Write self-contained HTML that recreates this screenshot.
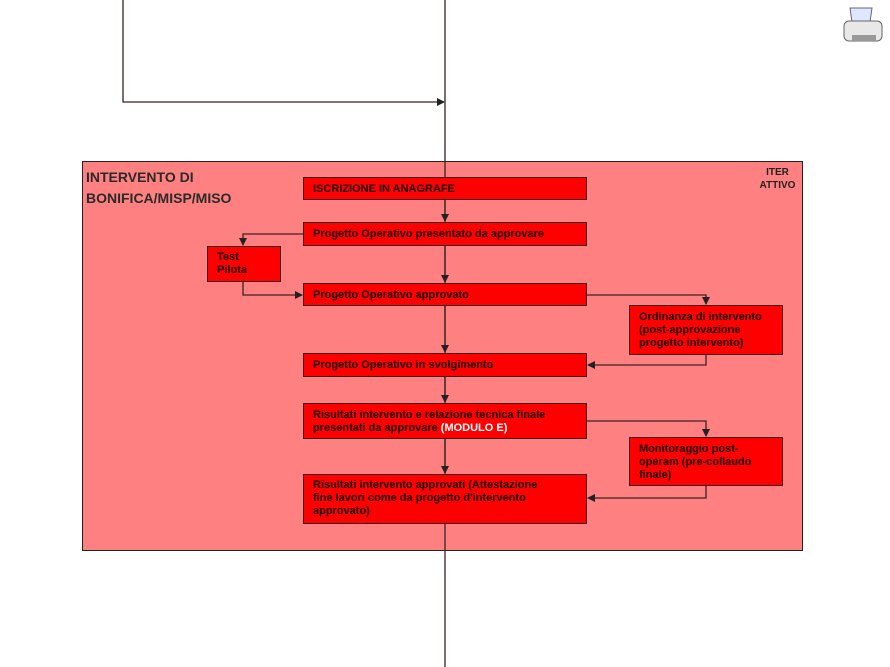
<!DOCTYPE html>
<html><head><meta charset="utf-8"><style>
body{margin:0;width:890px;height:667px;background:#fff;overflow:hidden;position:relative;font-family:"Liberation Sans","DejaVu Sans",sans-serif}
.b{position:absolute;background:#ff0000;border:1px solid #3a1a1a;box-sizing:border-box;font-weight:bold;font-size:11px;line-height:13px;color:#1a0000;padding:4px 0 0 9px;letter-spacing:0}
svg{position:absolute;left:0;top:0}
</style></head><body>
<div style="position:absolute;left:82px;top:161px;width:721px;height:390px;background:#ff8080;border:1px solid #222;box-sizing:border-box"></div>
<div style="position:absolute;left:86px;top:167px;font-size:14px;font-weight:bold;line-height:21px;color:#2a2a2a">INTERVENTO DI<br>BONIFICA/MISP/MISO</div>
<div style="position:absolute;left:755px;top:166px;font-size:10px;line-height:13px;font-weight:bold;text-align:center;color:#222;width:45px">ITER<br>ATTIVO</div>
<svg width="890" height="667">
<defs><marker id="a" markerWidth="8" markerHeight="8" refX="7" refY="4" orient="auto" markerUnits="userSpaceOnUse"><path d="M0,0L8,4L0,8z" fill="#222"/></marker></defs>
<g stroke="#3a2222" stroke-width="1.3" fill="none">
<line x1="445" y1="0" x2="445" y2="667"/>
<polyline points="123,0 123,102 444,102" marker-end="url(#a)"/>
<line x1="445" y1="199" x2="445" y2="221" marker-end="url(#a)"/>
<line x1="445" y1="245" x2="445" y2="282" marker-end="url(#a)"/>
<line x1="445" y1="306" x2="445" y2="352" marker-end="url(#a)"/>
<line x1="445" y1="376" x2="445" y2="402" marker-end="url(#a)"/>
<line x1="445" y1="439" x2="445" y2="473" marker-end="url(#a)"/>
<polyline points="303,234 243,234 243,245" marker-end="url(#a)"/>
<polyline points="243,282 243,295 302,295" marker-end="url(#a)"/>
<polyline points="587,295 706,295 706,304" marker-end="url(#a)"/>
<polyline points="706,355 706,365 588,365" marker-end="url(#a)"/>
<polyline points="587,421 706,421 706,436" marker-end="url(#a)"/>
<polyline points="706,486 706,498 588,498" marker-end="url(#a)"/>
</g>
<g transform="translate(842,6)">
<path d="M8,2 L30,2 L28,16 L10,16z" fill="#dde8ff" stroke="#667" stroke-width="1"/>
<rect x="2" y="15" width="38" height="20" rx="5" fill="#e8e8e8" stroke="#666"/>
<rect x="10" y="29" width="24" height="6" fill="#999"/>
</g>
</svg>
<div class="b" style="left:303px;top:177px;width:284px;height:23px;padding-top:5px">ISCRIZIONE IN ANAGRAFE</div>
<div class="b" style="left:303px;top:222px;width:284px;height:24px;padding-top:5px">Progetto Operativo presentato da approvare</div>
<div class="b" style="left:207px;top:246px;width:74px;height:36px">Test<br>Pilota</div>
<div class="b" style="left:303px;top:283px;width:284px;height:23px;padding-top:5px">Progetto Operativo approvato</div>
<div class="b" style="left:629px;top:305px;width:154px;height:50px;padding-top:5px">Ordinanza di intervento<br>(post-approvazione<br>progetto intervento)</div>
<div class="b" style="left:303px;top:353px;width:284px;height:24px;padding-top:5px">Progetto Operativo in svolgimento</div>
<div class="b" style="left:303px;top:403px;width:284px;height:36px;padding-top:5px">Risultati intervento e relazione tecnica finale<br>presentati da approvare <span style="color:#fff">(MODULO E)</span></div>
<div class="b" style="left:629px;top:437px;width:154px;height:49px;padding-top:5px">Monitoraggio post-<br>operam (pre-collaudo<br>finale)</div>
<div class="b" style="left:303px;top:474px;width:284px;height:50px;padding-top:4px">Risultati intervento approvati (Attestazione<br>fine lavori come da progetto d'intervento<br>approvato)</div>
</body></html>
